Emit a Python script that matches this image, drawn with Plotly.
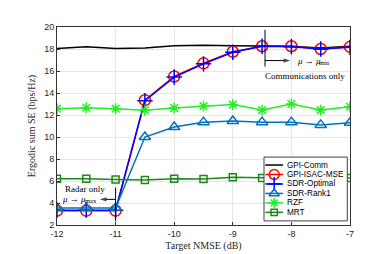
import plotly.graph_objects as go

x_nmse = [-12, -11.5, -11, -10.5, -10, -9.5, -9, -8.5, -8, -7.5, -7]
gpi_comm = [18.05, 18.2, 18.05, 18.1, 18.3, 18.35, 18.3, 18.25, 18.25, 18.1, 18.25]
gpi_isac = [3.3, 3.3, 3.3, 13.35, 15.5, 16.7, 17.75, 18.25, 18.25, 18.0, 18.2]
sdr_opt = [3.35, 3.35, 3.35, 13.3, 15.45, 16.65, 17.7, 18.25, 18.2, 18.0, 18.15]
sdr_rank1 = [3.55, 3.55, 3.55, 10.0, 10.9, 11.35, 11.45, 11.35, 11.35, 11.1, 11.3]
rzf = [12.57, 12.66, 12.57, 12.43, 12.63, 12.8, 12.95, 12.45, 13.0, 12.45, 12.75]
mrt = [6.2, 6.2, 6.13, 6.1, 6.2, 6.18, 6.33, 6.27, 6.25, 6.27, 6.27]
series_names = ["GPI-Comm", "GPI-ISAC-MSE", "SDR-Optimal", "SDR-Rank1", "RZF", "MRT"]
x_ticks = [-12, -11, -10, -9, -8, -7]
y_ticks = [2, 4, 6, 8, 10, 12, 14, 16, 18, 20]

# styles
colors = ["black", "#FF0000", "#0000FF", "#0072BD", "#22EE22", "#1A8A1A"]
symbols = [None, "circle-open", "cross-thin-open", "triangle-up-open", "asterisk-open", "square-open"]
msizes = [0, 11, 11, 10, 9, 7]
series_vals = [gpi_comm, gpi_isac, sdr_opt, sdr_rank1, rzf, mrt]

fig = go.Figure()
for name, vals, c, s, ms in zip(series_names, series_vals, colors, symbols, msizes):
    if s is None:
        fig.add_trace(go.Scatter(x=x_nmse, y=vals, name=name, mode="lines",
                                 line=dict(color=c, width=1.5), showlegend=False))
    else:
        fig.add_trace(go.Scatter(x=x_nmse, y=vals, name=name, mode="lines+markers",
                                 line=dict(color=c, width=1.5), showlegend=False,
                                 marker=dict(symbol=s, size=ms, color=c, line=dict(width=1.5, color=c))))

serif = "Liberation Serif"
ann_font = dict(family=serif, size=9, color="black")
sub_font = dict(family=serif, size=6.5, color="black")


def arrow(x0, x1, y):
    fig.add_trace(go.Scatter(x=[x0, x1], y=[y, y], mode="lines+markers", showlegend=False, hoverinfo="skip",
                             line=dict(color="black", width=1),
                             marker=dict(symbol="arrow", angleref="previous", size=[0, 7], color="black",
                                         line=dict(width=0))))


def mu_label(x_left, y, sub):
    # "μ → μ" followed by a lowered, smaller subscript
    fig.add_annotation(x=x_left, y=y, xref="x", yref="y", xanchor="left", showarrow=False,
                       text="<i>μ</i> → <i>μ</i>", font=ann_font, borderpad=0)
    fig.add_annotation(x=x_left, y=y, xref="x", yref="y", xanchor="left", showarrow=False,
                       text=sub, font=sub_font, xshift=22.5, yshift=-1.5, borderpad=0)


# Communications-only marker
fig.add_shape(type="line", x0=-8.45, x1=-8.45, y0=16.4, y1=19.75, line=dict(color="black", width=1))
arrow(-8.45, -8.02, 16.95)
mu_label(-7.93, 16.95, "min")
fig.add_annotation(x=-7.77, y=15.55, xref="x", yref="y", showarrow=False, borderpad=0,
                   text="Communications only", font=ann_font)

# Radar-only marker
fig.add_shape(type="line", x0=-11, x1=-11, y0=2.35, y1=5.4, line=dict(color="black", width=1))
arrow(-11.0, -11.27, 4.33)
mu_label(-11.93, 4.33, "max")
fig.add_annotation(x=-11.53, y=5.3, xref="x", yref="y", showarrow=False, borderpad=0,
                   text="Radar only", font=ann_font)

# Compact legend on an overlay axis (pixel units inside the plot area, y downward)
PW, PH = 293, 207
bx0, bx1, by0, by1 = 207.0, 290.3, 136.0, 202.7
row_h = 9.9
fig.add_trace(go.Scatter(x=[bx0, bx1, bx1, bx0, bx0], y=[by0, by0, by1, by1, by0], xaxis="x2", yaxis="y2",
                         mode="lines", fill="toself", fillcolor="white", line=dict(color="#404040", width=1),
                         showlegend=False, hoverinfo="skip"))
for i, (name, c, s, ms) in enumerate(zip(series_names, colors, symbols, msizes)):
    yc = by0 + 8.3 + row_h * i
    fig.add_trace(go.Scatter(x=[bx0 + 1.3, bx0 + 19.0], y=[yc, yc], xaxis="x2", yaxis="y2", mode="lines",
                             line=dict(color=c, width=1.5), showlegend=False, hoverinfo="skip"))
    if s is not None:
        fig.add_trace(go.Scatter(x=[bx0 + 10.2], y=[yc], xaxis="x2", yaxis="y2", mode="markers",
                                 showlegend=False, hoverinfo="skip",
                                 marker=dict(symbol=s, size=ms * 0.9, color=c, line=dict(width=1.5, color=c))))
    fig.add_annotation(x=bx0 + 21.0, y=yc, xref="x2", yref="y2", xanchor="left", showarrow=False,
                       text=name, font=dict(family="Liberation Sans", size=8.2, color="black"))

axis_common = dict(showgrid=True, gridcolor="#E6E6E6", gridwidth=1, zeroline=False,
                   showline=True, linecolor="#333333", linewidth=1, mirror=True,
                   ticks="inside", ticklen=3, tickcolor="#333333",
                   tickfont=dict(family="Liberation Sans", size=9, color="#262626"))

fig.update_xaxes(range=[-12, -7], tickvals=x_ticks, ticktext=[str(v) for v in x_ticks],
                 title=dict(text="Target NMSE (dB)", font=dict(family=serif, size=10, color="#262626"), standoff=4),
                 **axis_common)
fig.update_yaxes(range=[2, 20], tickvals=y_ticks,
                 title=dict(text="Ergodic sum SE (bps/Hz)", font=dict(family=serif, size=10, color="#262626"), standoff=6),
                 **axis_common)

fig.update_layout(
    width=378, height=254,
    margin=dict(l=49, r=36, t=19, b=28),
    paper_bgcolor="white", plot_bgcolor="white",
    showlegend=False,
    xaxis2=dict(range=[0, PW], overlaying="x", visible=False, fixedrange=True),
    yaxis2=dict(range=[PH, 0], overlaying="y", visible=False, fixedrange=True),
)

fig.write_html("out.html")
